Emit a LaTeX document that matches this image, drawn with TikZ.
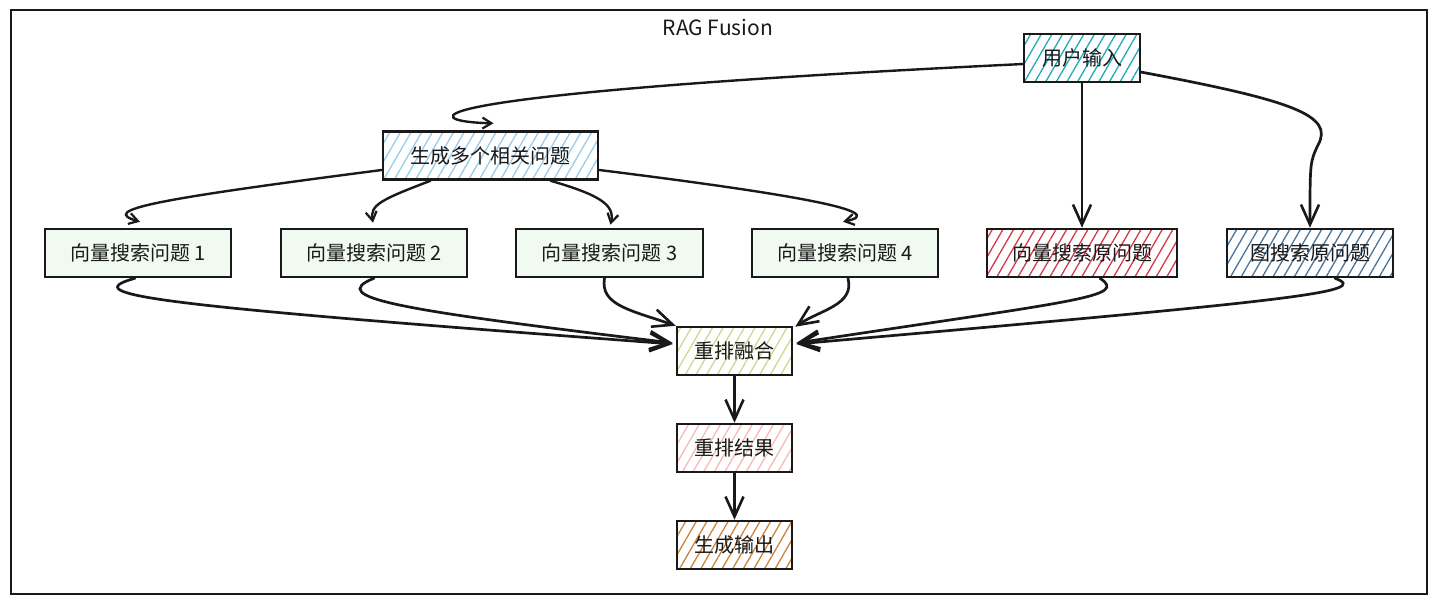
\documentclass[tikz,border=0pt]{standalone}
\usepackage{fontspec}
\newfontfamily\cjk{Noto Sans CJK SC}
\usetikzlibrary{arrows.meta,patterns.meta,calc}
\definecolor{cteal}{RGB}{32,170,185}
\definecolor{clblue}{RGB}{150,205,235}
\definecolor{cgreen}{RGB}{240,250,240}
\definecolor{cred}{RGB}{215,55,70}
\definecolor{cslate}{RGB}{70,115,160}
\definecolor{cyel}{RGB}{210,215,140}
\definecolor{cpink}{RGB}{245,185,185}
\definecolor{corange}{RGB}{205,130,60}
\definecolor{cink}{RGB}{25,25,25}
\tikzset{
  box/.style={draw=cink, line width=1.25pt, minimum height=24pt, inner sep=0pt,
    text=cink, font=\cjk\fontsize{10}{11}\selectfont},
  hatch/.style={pattern={Lines[angle=60,distance=4.6pt,line width=0.65pt]}, pattern color=#1},
  conn/.style={draw=cink, line width=1.35pt, line cap=round, -{Straight Barb[length=10pt,width=9pt,line width=1.3pt]}},
  sconn/.style={draw=cink, line width=1.2pt, line cap=round, -{Straight Barb[length=4.5pt,width=5.5pt,line width=1.1pt]}},
}
\begin{document}
\begin{tikzpicture}[x=0.5pt,y=-0.5pt]
\useasboundingbox (0,0) rectangle (1437,605);
\draw[cink, line width=1pt] (11,10) rectangle (1427,594);
\node[font=\cjk\fontsize{10.5}{12}\selectfont, text=cink] (title) at (718,27) {RAG Fusion};

\node[box, hatch=cteal, minimum width=58pt] (u) at (1082,58) {用户输入};
\node[box, hatch=clblue, minimum width=107.5pt] (g) at (490.5,155.5) {生成多个相关问题};
\node[box, fill=cgreen, minimum width=93pt] (q1) at (138,253) {向量搜索问题 1};
\node[box, fill=cgreen, minimum width=93pt] (q2) at (374,253) {向量搜索问题 2};
\node[box, fill=cgreen, minimum width=93.5pt] (q3) at (609.5,253) {向量搜索问题 3};
\node[box, fill=cgreen, minimum width=93pt] (q4) at (845,253) {向量搜索问题 4};
\node[box, hatch=cred, minimum width=95pt] (vr) at (1082,253) {向量搜索原问题};
\node[box, hatch=cslate, minimum width=83pt] (gr) at (1310,253) {图搜索原问题};
\node[box, hatch=cyel, minimum width=57.5pt] (r) at (734.5,351) {重排融合};
\node[box, hatch=cpink, minimum width=57.5pt] (rr) at (734.5,448) {重排结果};
\node[box, hatch=corange, minimum width=57.5pt] (o) at (734.5,545) {生成输出};

% from user input
\draw[sconn] ($(u.west)+(0,6)$) .. controls (380,95) and (420,122) .. ($(g.north)+(3,-7)$);
\draw[conn] (u.south) -- (vr.north);
\draw[conn] ($(u.east)+(0,14)$) .. controls (1290,100) and (1335,115) .. (1318,145)
   .. controls (1310,162) .. (gr.north);

% from generator to the four queries
\draw[sconn] ($(g.west)+(0,14.5)$) .. controls (150,200) and (100,210) .. ($(q1.north)+(2,-6)$);
\draw[sconn] ($(g.south)+(-60,0)$) .. controls (380,200) and (370,205) .. ($(q2.north)+(-1,-5)$);
\draw[sconn] ($(g.south)+(60,0)$) .. controls (600,195) and (615,205) .. ($(q3.north)+(1,-3)$);
\draw[sconn] ($(g.east)+(0,14.5)$) .. controls (800,195) and (890,212) .. ($(q4.north)+(-2,-6)$);

% into rerank fusion
\draw[conn] ($(q1.south)+(-3,0)$) .. controls (75,295) and (150,305) .. ($(r.west)+(-3,-7)$);
\draw[conn] (q2.south) .. controls (325,298) and (400,310) .. ($(r.west)+(-3,-8)$);
\draw[conn] ($(q3.south)+(-5,0)$) .. controls (600,305) and (630,310) .. (r.north west);
\draw[conn] ($(q4.south)+(3,0)$) .. controls (855,305) and (820,310) .. ($(r.north east)+(2,1)$);
\draw[conn] ($(vr.south)+(18,0)$) .. controls (1128,297) and (1080,300) .. ($(r.east)+(3,-8)$);
\draw[conn] ($(gr.south)+(25,0)$) .. controls (1372,292) and (1300,300) .. ($(r.east)+(3,-7)$);

\draw[conn] (r.south) -- (rr.north);
\draw[conn] (rr.south) -- (o.north);
\end{tikzpicture}
\end{document}
